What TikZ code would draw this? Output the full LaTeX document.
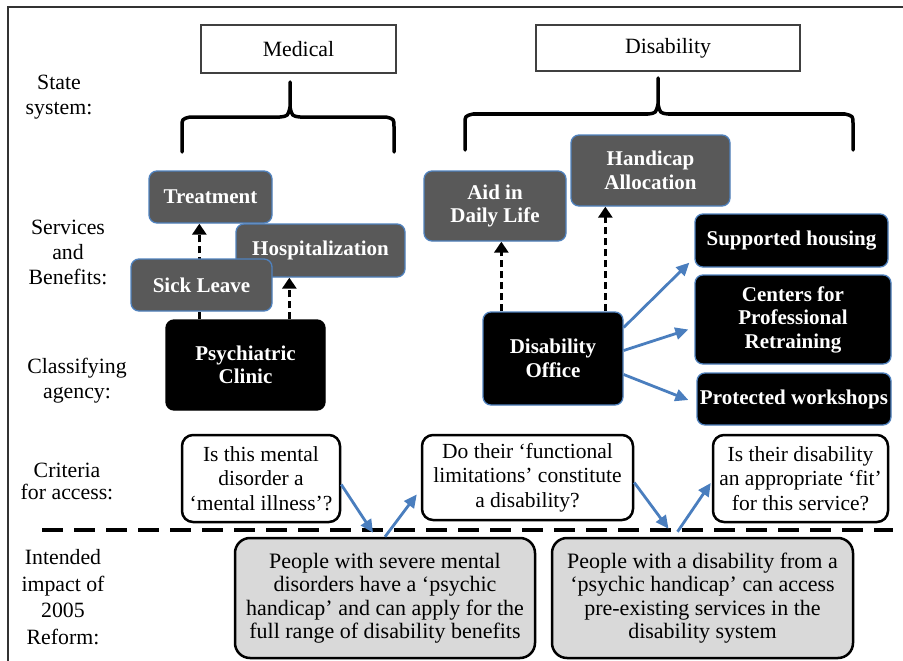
\documentclass[tikz,border=0pt]{standalone}
\usepackage{fontspec}
\setmainfont{Liberation Serif}
\usetikzlibrary{arrows.meta,backgrounds}
\definecolor{svcgray}{RGB}{89,89,89}
\definecolor{edgeblue}{RGB}{79,129,189}
\definecolor{arrblue}{RGB}{74,126,190}
\definecolor{lightg}{RGB}{217,217,217}
\tikzset{
  svc/.style={rounded corners=8pt, fill=svcgray, draw=edgeblue, line width=1.3pt,
    text=white, font=\bfseries\fontsize{21}{23.5}\selectfont, align=center, inner sep=0pt},
  blk/.style={svc, fill=black},
  blkplain/.style={svc, fill=black, draw=black},
  crit/.style={rounded corners=11pt, fill=white, draw=black, line width=2.5pt,
    font=\fontsize{21.5}{24.5}\selectfont, align=center, inner sep=0pt},
  imp/.style={crit, fill=lightg, rounded corners=15pt, font=\fontsize{22}{23.5}\selectfont},
  lbl/.style={font=\fontsize{21.8}{25}\selectfont, align=center, inner sep=0pt},
  sysbox/.style={draw=black!75, line width=1.3pt, fill=white, font=\fontsize{21.8}{24}\selectfont, inner sep=0pt},
  dasharr/.style={line width=3pt, dash pattern=on 7pt off 4pt, -{Triangle[length=11pt,width=14pt]}},
  bluarr/.style={draw=arrblue, line width=2.8pt, -{Triangle[length=13pt,width=12pt]}},
  bracel/.style={line width=3.5pt, line cap=round, line join=round},
}
\begin{document}
\begin{tikzpicture}[x=1pt,y=-1pt]
\useasboundingbox (0,0) rectangle (903,661);
% frame
\draw[line width=1.5pt, black!80] (8,661) -- (8,7) -- (903,7);

% left labels
\node[lbl] (lstate) at (59,97.5) {State\\system:};
\node[lbl] (lserv) at (68,252) {Services\\and\\Benefits:};
\node[lbl] (lclass) at (77,380.5) {Classifying\\agency:};
\node[lbl, font=\fontsize{21.8}{22}\selectfont] (lcrit) at (67,481) {Criteria\\for access:};
\node[lbl, font=\fontsize{21.8}{26.5}\selectfont] (limp) at (63,597) {Intended\\impact of\\2005\\Reform:};

% state systems
\node[sysbox, minimum width=195pt, minimum height=48pt] (med) at (298.5,49) {Medical};
\node[sysbox, minimum width=264pt, minimum height=46pt] (dis) at (668,48) {Disability};

% braces
\draw[bracel] (182,152) -- (182,127) .. controls (182,119) .. (190,117) -- (280,117)
  .. controls (288,116) .. (290,107) -- (290,82);
\draw[bracel] (394,152) -- (394,127) .. controls (394,119) .. (386,117) -- (300,117)
  .. controls (292,116) .. (290,107);
\draw[bracel] (465,150) -- (465,124) .. controls (465,116) .. (473,114) -- (648,114)
  .. controls (656,113) .. (658,104) -- (658,78);
\draw[bracel] (853,150) -- (853,124) .. controls (853,116) .. (845,114) -- (668,114)
  .. controls (660,113) .. (658,104);

% services (medical)
\node[svc, minimum width=123pt, minimum height=52pt] (treat) at (210.5,197) {Treatment};
\node[svc, minimum width=169pt, minimum height=53pt] (hosp) at (320.5,250.5) {Hospitalization};
\node[svc, minimum width=141pt, minimum height=52pt] (sick) at (201.5,285) {Sick Leave};
\node[blkplain, minimum width=159pt, minimum height=90pt] (clin) at (245.5,365) {Psychiatric\\Clinic};

% services (disability)
\node[svc, minimum width=142pt, minimum height=70pt] (aid) at (495,206) {Aid in\\Daily Life};
\node[svc, minimum width=159pt, minimum height=71pt] (hand) at (650.5,170.5) {Handicap\\Allocation};
\node[blk, minimum width=193pt, minimum height=53pt] (sup) at (791.5,240.5) {Supported housing};
\node[blk, minimum width=196pt, minimum height=89pt] (cen) at (793,319.5) {Centers for\\Professional\\Retraining};
\node[blk, minimum width=194pt, minimum height=52pt] (prot) at (794,399) {Protected workshops};
\node[blk, minimum width=140pt, minimum height=93pt] (off) at (553,358.5) {Disability\\Office};

% criteria
\node[crit, minimum width=158pt, minimum height=87pt] (c1) at (261,478.5) {Is this mental\\disorder a\\‘mental illness’?};
\node[crit, minimum width=211pt, minimum height=85pt] (c2) at (527.5,477.5) {Do their ‘functional\\limitations’ constitute\\a disability?};
\node[crit, minimum width=175pt, minimum height=87pt] (c3) at (800.5,478.5) {Is their disability\\an appropriate ‘fit’\\for this service?};

% impact
\node[imp, minimum width=300pt, minimum height=120pt] (i1) at (385,598) {People with severe mental\\disorders have a ‘psychic\\handicap’ and can apply for the\\full range of disability benefits};
\node[imp, minimum width=301pt, minimum height=120pt] (i2) at (702.5,598) {People with a disability from a\\‘psychic handicap’ can access\\pre-existing services in the\\disability system};

% dashed divider
\coordinate (dl) at (42,530);
\coordinate (dr) at (893,530);
\draw[line width=3.5pt, dash pattern=on 21pt off 11pt] (dl) -- (dr);

% dashed black arrows (behind boxes)
\coordinate (t1) at ([xshift=34pt]clin.north west);
\coordinate (t2) at ([xshift=124pt]clin.north west);
\coordinate (t3) at ([xshift=19pt]off.north west);
\coordinate (t4) at ([xshift=123pt]off.north west);
\begin{pgfonlayer}{background}
\draw[dasharr] (t1) -- (t1 |- treat.south);
\draw[dasharr] (t2) -- (t2 |- hosp.south);
\draw[dasharr] (t3) -- (t3 |- aid.south);
\draw[dasharr] (t4) -- (t4 |- hand.south);
\end{pgfonlayer}

% blue arrows from office
\draw[bluarr] ([yshift=31pt]off.east) -- ([xshift=-5pt,yshift=5pt]sup.south west);
\draw[bluarr] ([yshift=8pt]off.east) -- ([xshift=-6pt,yshift=-10pt]cen.west);
\draw[bluarr] ([yshift=-16pt]off.east) -- ([xshift=-8pt,yshift=-1pt]prot.west);

% blue arrows criteria/impact
\draw[bluarr] ([yshift=-6pt]c1.east) -- ([xshift=-12pt,yshift=4pt]i1.north);
\draw[bluarr] (i1.north) -- ([xshift=-4pt,yshift=-17pt]c2.west);
\draw[bluarr] ([yshift=-5pt]c2.east) -- ([xshift=-34pt,yshift=8pt]i2.north);
\draw[bluarr] ([xshift=-25pt,yshift=5pt]i2.north) -- ([xshift=-1pt,yshift=-4.5pt]c3.west);
\end{tikzpicture}
\end{document}
